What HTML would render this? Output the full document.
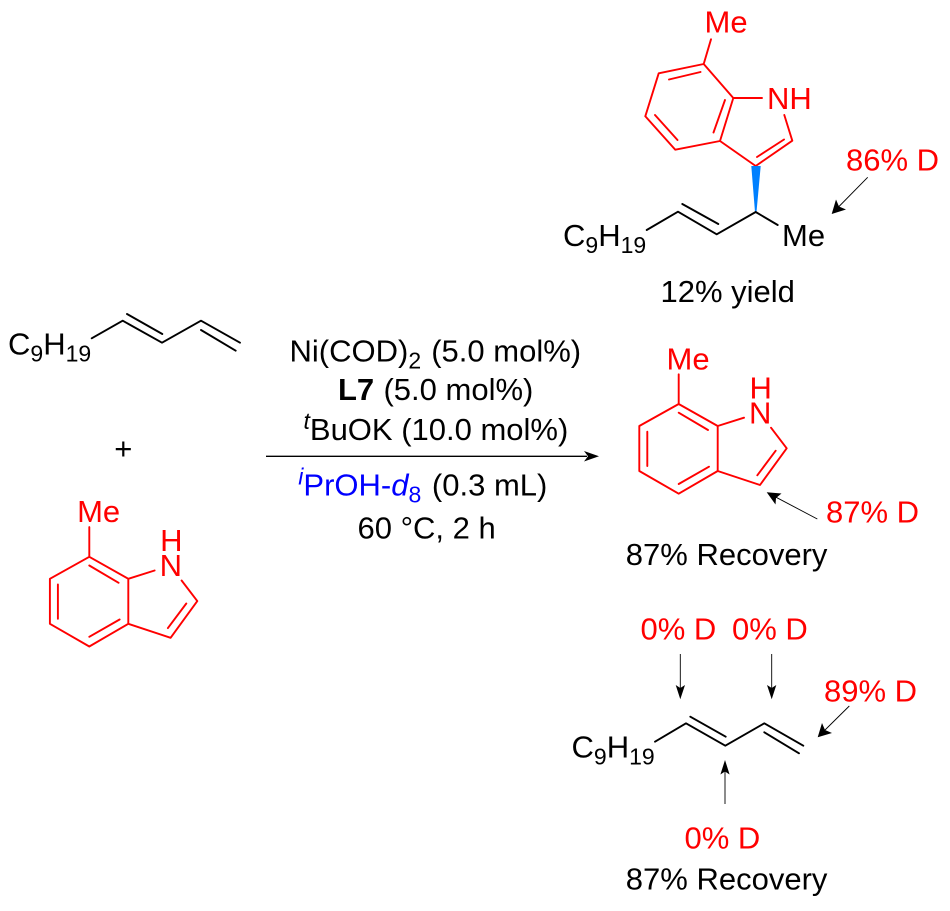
<!DOCTYPE html>
<html>
<head>
<meta charset="utf-8">
<style>
html,body{margin:0;padding:0;background:#fff}
svg{display:block}
text{font-family:"Liberation Sans",sans-serif;font-size:31px}
.r{fill:#f00}.k{fill:#000}.b{fill:#00f}
.s{font-size:23px}
.rb{stroke:#f00;stroke-width:1.9;fill:none;stroke-linecap:round;stroke-linejoin:round}
.kb{stroke:#000;stroke-width:1.9;fill:none;stroke-linecap:round;stroke-linejoin:round}
.a{stroke:#000;stroke-width:0.9;fill:none}
</style>
</head>
<body>
<svg width="950" height="911" viewBox="0 0 950 911" xmlns="http://www.w3.org/2000/svg">
<defs>
<g id="ind">
<path class="rb" d="M678.7 374.3V404L639.3 426V471L678.7 493.7L717.7 471V426L678.7 404M717.7 426L744 417.7M771 427.7L786.7 448.3L760 485L717.7 471M678.7 412.7L708 430M647.3 431.7V466M678.7 484L709 466.7M775.7 450.7L757.3 475.3"/>
<text class="r" x="666.5" y="369.3">Me</text>
<text class="r" x="749" y="423.3">N</text>
<text class="r" x="749.5" y="398.3">H</text>
</g>
</defs>

<!-- Left: diene -->
<path class="kb" d="M91.7 338.3L122.7 320.7L162 342.7L201 320.7L240 342.7M127 314L162.3 334M201 330L235.7 350.7"/>
<text class="k" x="8" y="354.3">C<tspan class="s" dy="7">9</tspan><tspan dy="-7">H</tspan><tspan class="s" dy="7">19</tspan></text>
<text class="k" x="114.3" y="459">+</text>
<use href="#ind" transform="translate(-589.4 152.8)"/>

<!-- Reagents -->
<text class="k" x="289.5" y="361.7">Ni(COD)<tspan class="s" dy="7">2</tspan><tspan dy="-7" dx="1.5"> (5.0 mol%)</tspan></text>
<text class="k" x="338" y="400"><tspan font-weight="bold">L7</tspan><tspan dx="0.7"> (5.0 mol%)</tspan></text>
<text class="k" x="303.5" y="440"><tspan class="s" font-style="italic" dy="-11">t</tspan><tspan dy="11">BuOK (10.0 mol%)</tspan></text>
<line x1="266" y1="456.3" x2="587" y2="456.3" stroke="#000" stroke-width="1.3"/>
<polygon points="599,456.3 584,451 588,456.3 584,461.5" fill="#000"/>
<text x="298.3" y="495.7"><tspan class="s b" font-style="italic" dy="-11">i</tspan><tspan class="b" dy="11">PrOH-</tspan><tspan class="b" font-style="italic">d</tspan><tspan class="s b" dy="7">8</tspan><tspan class="k" dy="-7" dx="2"> (0.3 mL)</tspan></text>
<text class="k" x="357.5" y="538.3">60 °C, 2 h</text>

<!-- Top product -->
<path class="rb" d="M703.7 64L711 39.3M703.7 64L658.7 73.3L645.3 116.3L675.3 149.7L720 141L733.3 98L703.7 64M733.3 98H762M784.3 115L792.3 140.7L755.7 166L720 141M669 79.5L700.5 72M655 115L677.5 140M713.5 132.5L725 100M784 139.5L757 157"/>
<text class="r" x="704.5" y="32.7">Me</text>
<text class="r" x="767" y="109">NH</text>
<polygon points="751.3,166 760.7,166 756.5,212 755,212" fill="#0080ff"/>
<path class="kb" d="M646.7 230L678 211.7L716.7 234.3L755.7 212L777.7 225M682.3 204L718.3 224"/>
<text class="k" x="563" y="246">C<tspan class="s" dy="7">9</tspan><tspan dy="-7">H</tspan><tspan class="s" dy="7">19</tspan></text>
<text class="k" x="782" y="246">Me</text>
<text class="r" x="846" y="170.7">86% D</text>
<line class="a" x1="867.7" y1="177.3" x2="838" y2="207.5"/>
<polygon points="831.7,214 836,199.5 839,206.5 846,209.5" fill="#000"/>
<text class="k" x="660.5" y="302">12% yield</text>

<!-- Middle product -->
<use href="#ind"/>
<text class="r" x="826" y="522.7">87% D</text>
<line class="a" x1="817.3" y1="519" x2="775" y2="496.7"/>
<polygon points="766.7,492.3 781.5,493.5 776,498 775.5,504.5" fill="#000"/>
<text class="k" x="625.8" y="565">87% Recovery</text>

<!-- Bottom diene -->
<text class="r" x="640.5" y="639.3">0% D</text>
<text class="r" x="732" y="639.3">0% D</text>
<text class="r" x="824" y="701.3">89% D</text>
<line class="a" x1="680.3" y1="654" x2="680.3" y2="690"/>
<polygon points="680.3,699.3 675.7,685 680.3,688 685,685" fill="#000"/>
<line class="a" x1="771.7" y1="654" x2="771.7" y2="690"/>
<polygon points="771.7,699.3 767,685 771.7,688 776.3,685" fill="#000"/>
<line class="a" x1="849.3" y1="706" x2="824" y2="731"/>
<polygon points="817.7,737.3 822,723 825,730 832,733" fill="#000"/>
<path class="kb" d="M655 741.7L686 723.3L725.3 745.7L764.3 723.3L803.3 745.7M690.3 716.7L725.7 736.7M764.3 732.3L799 753.3"/>
<text class="k" x="571.5" y="757.3">C<tspan class="s" dy="7">9</tspan><tspan dy="-7">H</tspan><tspan class="s" dy="7">19</tspan></text>
<line class="a" x1="725" y1="804" x2="725" y2="770"/>
<polygon points="725,760 720.4,774.5 725,771.5 729.6,774.5" fill="#000"/>
<text class="r" x="684.5" y="848.3">0% D</text>
<text class="k" x="625.8" y="889.3">87% Recovery</text>
</svg>
</body>
</html>
